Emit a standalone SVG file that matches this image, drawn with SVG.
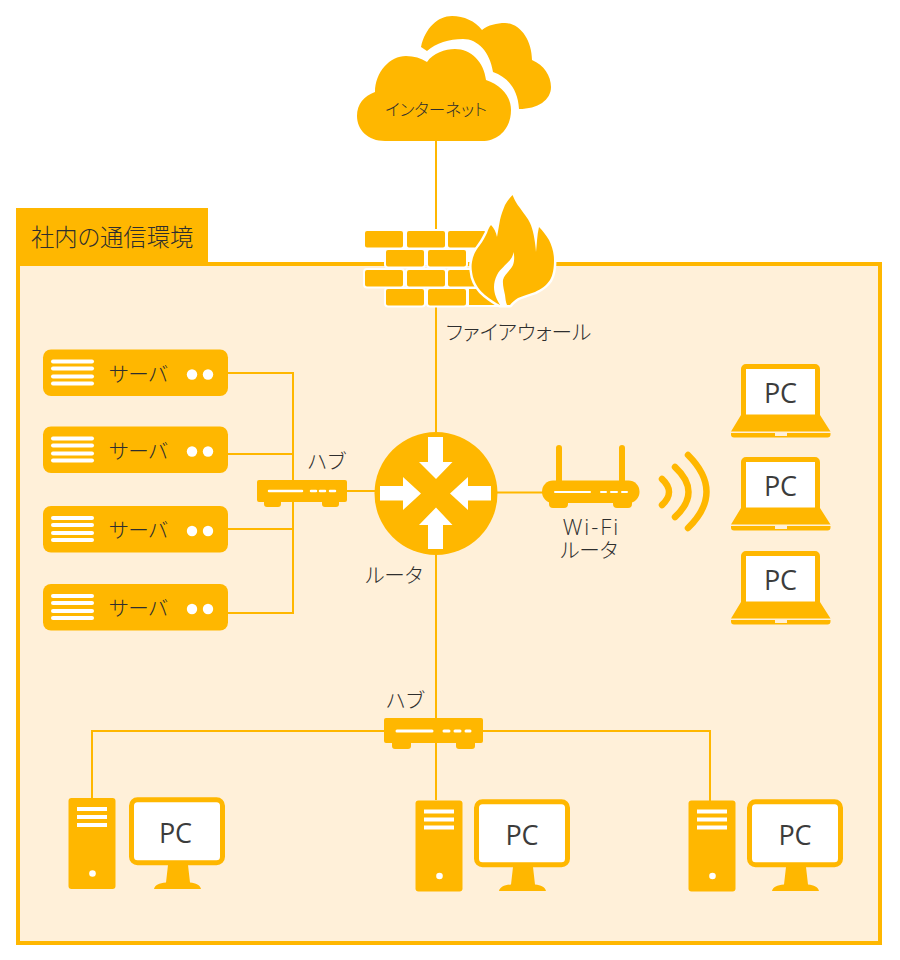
<svg xmlns="http://www.w3.org/2000/svg" width="900" height="960" viewBox="0 0 900 960">
<style>
.t{font-family:"Noto Sans CJK JP","Noto Sans",sans-serif;font-size:20.600px;fill:#2e2e2e;font-feature-settings:"palt";font-weight:300}
.m{text-anchor:middle}
.pc{font-family:"Open Sans","Noto Sans",sans-serif;font-size:27px;fill:#3c3c3c;text-anchor:middle}
.f{fill:#ffb700}
.w{fill:#fff}
.ln{fill:none;stroke:#ffb700;stroke-width:2}
.br{fill:#ffb700;stroke:#fff;stroke-width:2}
</style>
<defs>
<g id="server">
<rect class="f" x="43" y="0" width="185" height="46.500" rx="8"/>
<rect class="w" x="51" y="10" width="43" height="4" rx="2"/>
<rect class="w" x="51" y="17" width="43" height="4" rx="2"/>
<rect class="w" x="51" y="25" width="43" height="4" rx="2"/>
<rect class="w" x="51" y="32" width="43" height="4" rx="2"/>
<circle class="w" cx="192" cy="25" r="5.200"/>
<circle class="w" cx="208" cy="25" r="5.200"/>
</g>
<g id="laptop">
<path class="f" d="M746,364H815a5,5 0 0 1 5,5V415L830.500,431.500H731L741,415V369a5,5 0 0 1 5,-5Z"/>
<rect class="w" x="746" y="369" width="69" height="45.500"/>
<path class="f" d="M731,433H775V436H787V433H830.500V434.500a3,3 0 0 1 -3,3H734a3,3 0 0 1 -3,-3Z"/>
</g>
<g id="tower">
<rect class="f" x="68.500" y="798" width="47" height="91" rx="3"/>
<rect class="w" x="77" y="807" width="30" height="4"/>
<rect class="w" x="77" y="815" width="30" height="4"/>
<rect class="w" x="77" y="823" width="30" height="4"/>
<circle class="w" cx="92.500" cy="873.500" r="3.300"/>
</g>
<g id="monitor">
<rect class="w" x="131.500" y="799.800" width="91" height="63" rx="6" stroke="#ffb700" stroke-width="5"/>
<path class="f" d="M168,865H188L190,882.500C196,883 200,885 201,889H154C155,885 159,883 166,882.500Z"/>
</g>
</defs>
<rect width="900" height="960" fill="#fff"/>
<g id="frame">
<rect x="18" y="264" width="862" height="679" fill="#fff0d9" stroke="#ffb700" stroke-width="4"/>
<rect class="f" x="16" y="208" width="192" height="56"/>
<text class="t" x="31" y="246" style="font-size:23.300px">社内の通信環境</text>
</g>
<g id="connectors">
<path class="ln" d="M436,140V800"/>
<path class="ln" d="M228,373H293V613H228M228,454H293M228,529H293"/>
<path class="ln" d="M293,491H375M497,492.500H545"/>
<path class="ln" d="M92,798V731H710V801"/>
</g>
<g id="cloud">
<path class="f" d="M421,47C425,28 438,16 452,16C464,16 475,21 482,30C488,25 497,23 505,23C520,23 532,40 532,60C544,65 551,76 551,87C551,100 538,109 519,109C518,90 508,77 493,72C490,52 478,39 463,39C449,39 436,43 427,51Z"/>
<path class="f" d="M385,141C368,141 357,130 357,116C357,104 364,96 375,92C375,72 390,56 406,56C414,56 421,58 427,62C433,53 445,49 455,49C471,49 484,62 486,80C501,85 511,96 511,110C511,128 499,141 482,141Z"/>
<text class="t m" x="436" y="115.500" style="font-size:16.600px">インターネット</text>
</g>
<g id="firewall">
<rect class="br" x="364" y="230" width="40" height="18.500" rx="3"/>
<rect class="br" x="406" y="230" width="40" height="18.500" rx="3"/>
<rect class="br" x="447" y="230" width="40" height="18.500" rx="3"/>
<rect class="br" x="385" y="249" width="40" height="18.500" rx="3"/>
<rect class="br" x="427" y="249" width="40" height="18.500" rx="3"/>
<rect class="br" x="364" y="269" width="40" height="18.500" rx="3"/>
<rect class="br" x="406" y="269" width="40" height="18.500" rx="3"/>
<rect class="br" x="447" y="269" width="40" height="18.500" rx="3"/>
<rect class="br" x="385" y="288" width="40" height="18.500" rx="3"/>
<rect class="br" x="427" y="288" width="40" height="18.500" rx="3"/>
<path class="br" d="M468,288H490L500,306H468Z"/>
<path class="f" stroke="#fff" stroke-width="5" paint-order="stroke" stroke-linejoin="round" d="M512.500,195C515,201 517,204 520,208C524,214 528,218 530,223C533,229 535,240 536,252C537,243 537,235 539,227C543,231 546,235 549,240C552,246 554,253 554,260C554,268 553,275 550,280C546,286 541,289 535,292C529,294 523,296 518,298C515,300 512,302 510,305L500,305C496,303 490,299 485,295C480,291 475,284 473,277C472,272 471,267 472,262C473,255 476,250 480,245C483,241 485,237 487,233C488,230 489,227 491,225C494,228 496,232 497,237C498,231 499,226 500,220C501,215 503,210 505,205C507,201 510,198 512.500,195Z"/>
<path class="w" d="M513.500,252C513,256 511.500,258 510,260C506,265 500,269 497,275C495,279 494,283 494,287C494,294 497,300 500,305H507C505.500,302 505.500,298 505,295C504,290 502.500,285 503,280C504,275 510,271 513,265C514.500,261 514.500,256 513.500,252Z"/>
<text class="t m" x="518.500" y="340">ファイアウォール</text>
</g>
<g id="server1"><use href="#server" y="349.500"/><text class="t" x="109" y="382">サーバ</text></g>
<g id="server2"><use href="#server" y="426.500"/><text class="t" x="109" y="459">サーバ</text></g>
<g id="server3"><use href="#server" y="506"/><text class="t" x="109" y="538">サーバ</text></g>
<g id="server4"><use href="#server" y="584"/><text class="t" x="109" y="616">サーバ</text></g>
<g id="hub1">
<path class="f" d="M259,480H345a2,2 0 0 1 2,2V500a2,2 0 0 1 -2,2H339V504a3,3 0 0 1 -3,3H325a3,3 0 0 1 -3,-3V502H281V504a3,3 0 0 1 -3,3H267a3,3 0 0 1 -3,-3V502H259a2,2 0 0 1 -2,-2V482a2,2 0 0 1 2,-2Z"/>
<path d="M269,491H302M311,491H316M320,491H325M330,491H335" stroke="#fff" stroke-width="2.500" stroke-linecap="round" fill="none"/>
<text class="t m" x="326.500" y="469">ハブ</text>
</g>
<g id="router">
<circle class="f" cx="436" cy="493.500" r="61.500"/>
<path class="w" d="M428,437H443V462H452.500L436,479L419,462H428Z"/>
<path class="w" d="M428,549H443V525H452.500L436,507.500L419,525H428Z"/>
<path class="w" d="M380,486H403V477L421,493.500L403,510V500.500H380Z"/>
<path class="w" d="M491,486H468V477L450,493.500L468,510V500.500H491Z"/>
<text class="t m" x="394" y="583">ルータ</text>
</g>
<g id="wifi">
<path d="M559,448V482M622,448V482" stroke="#ffb700" stroke-width="6" stroke-linecap="round" fill="none"/>
<rect class="f" x="542" y="480.500" width="97.500" height="22.500" rx="11"/>
<path class="f" d="M549,500H568V504a4,4 0 0 1 -4,4H553a4,4 0 0 1 -4,-4ZM613,500H632V504a4,4 0 0 1 -4,4H617a4,4 0 0 1 -4,-4Z"/>
<path d="M555,492H590M601,492H606M611,492H617M622,492H627" stroke="#fff" stroke-width="2" stroke-linecap="round" fill="none"/>
<path d="M662,479Q676,492 662,505M675,467Q702,492 675,517M688,455Q725,492 688,528" stroke="#ffb700" stroke-width="6.500" stroke-linecap="round" fill="none"/>
<text x="591.500" y="534.500" style="font-family:'Open Sans','Noto Sans',sans-serif;font-size:22px;font-weight:300;fill:#2e2e2e;text-anchor:middle;letter-spacing:2px">Wi-Fi</text>
<text class="t m" x="589" y="558">ルータ</text>
</g>
<g id="laptop1"><use href="#laptop"/><text class="pc" x="780.500" y="403">PC</text></g>
<g id="laptop2"><use href="#laptop" y="93"/><text class="pc" x="780.500" y="496">PC</text></g>
<g id="laptop3"><use href="#laptop" y="187"/><text class="pc" x="780.500" y="590">PC</text></g>
<g id="hub2">
<path class="f" d="M386,718H481a2,2 0 0 1 2,2V741a2,2 0 0 1 -2,2H475V746a3,3 0 0 1 -3,3H459a3,3 0 0 1 -3,-3V743H411V746a3,3 0 0 1 -3,3H395a3,3 0 0 1 -3,-3V743H386a2,2 0 0 1 -2,-2V720a2,2 0 0 1 2,-2Z"/>
<path d="M397,731H432M444,731H449M455,731H460M466,731H470" stroke="#fff" stroke-width="3" stroke-linecap="round" fill="none"/>
<text class="t m" x="405" y="708">ハブ</text>
</g>
<g id="pc1"><use href="#tower"/><use href="#monitor"/><text class="pc" x="175.500" y="843">PC</text></g>
<g id="pc2"><use href="#tower" x="347" y="2.500"/><use href="#monitor" x="345" y="2"/><text class="pc" x="522" y="845">PC</text></g>
<g id="pc3"><use href="#tower" x="620" y="2.500"/><use href="#monitor" x="618" y="2"/><text class="pc" x="795" y="845">PC</text></g>
</svg>
